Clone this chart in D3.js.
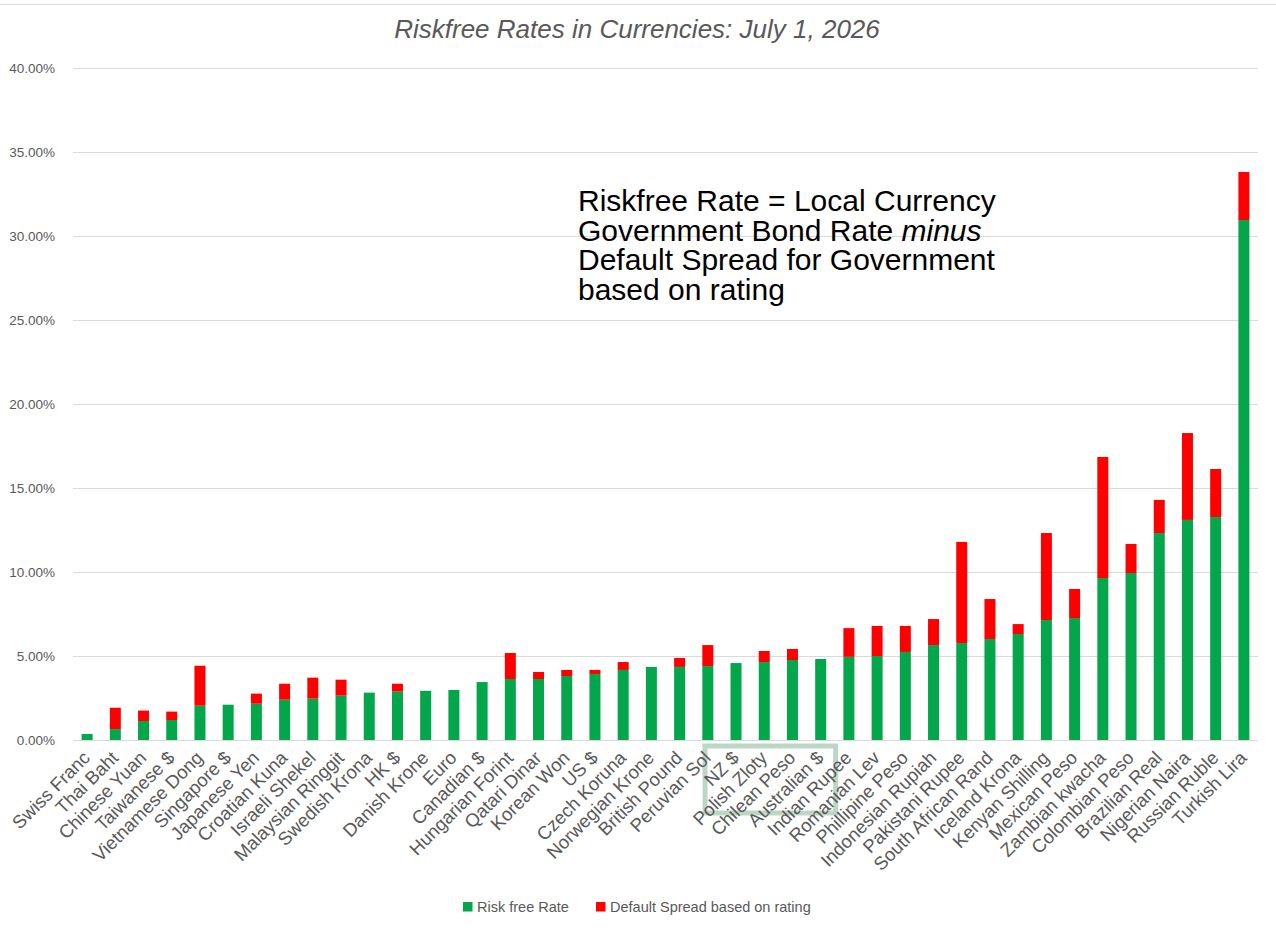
<!DOCTYPE html>
<html>
<head>
<meta charset="utf-8">
<script src="https://cdn.jsdelivr.net/npm/d3@7"></script>
<style>
  body { margin: 0; background: #fff; }
  svg { display: block; font-family: "Liberation Sans", Arial, sans-serif; }
</style>
</head>
<body>
<svg id="chart"></svg>
<script>
const width = 1276
const height = 934

// currencies, left to right
const currencies = [
  "Swiss Franc", "Thai Baht", "Chinese Yuan", "Taiwanese $", "Vietnamese Dong",
  "Singapore $", "Japanese Yen", "Croatian Kuna", "Israeli Shekel", "Malaysian Ringgit",
  "Swedish Krona", "HK $", "Danish Krone", "Euro", "Canadian $",
  "Hungarian Forint", "Qatari Dinar", "Korean Won", "US $", "Czech Koruna",
  "Norwegian Krone", "British Pound", "Peruvian Sol", "NZ $", "Polish Zloty",
  "Chilean Peso", "Australian $", "Indian Rupee", "Romanian Lev", "Phillipine Peso",
  "Indonesian Rupiah", "Pakistani Rupee", "South African Rand", "Iceland Krona", "Kenyan Shilling",
  "Mexican Peso", "Zambian kwacha", "Colombian Peso", "Brazilian Real", "Nigerian Naira",
  "Russian Ruble", "Turkish Lira"
]

// risk free rate (%)
const riskFree = [
  0.36, 0.65, 1.13, 1.19, 2.04,
  2.10, 2.16, 2.40, 2.46, 2.64,
  2.82, 2.88, 2.93, 2.98, 3.45,
  3.63, 3.63, 3.81, 3.93, 4.17,
  4.35, 4.35, 4.40, 4.58, 4.64,
  4.76, 4.82, 4.95, 5.00, 5.24,
  5.65, 5.77, 6.01, 6.31, 7.14,
  7.26, 9.64, 9.94, 12.32, 13.10,
  13.27, 30.95
]

// default spread based on rating (%)
const defaultSpread = [
  0.00, 1.27, 0.62, 0.50, 2.38,
  0.00, 0.60, 0.95, 1.25, 0.95,
  0.00, 0.47, 0.00, 0.00, 0.00,
  1.55, 0.42, 0.36, 0.24, 0.47,
  0.00, 0.53, 1.25, 0.00, 0.66,
  0.66, 0.00, 1.71, 1.79, 1.55,
  1.55, 6.02, 2.38, 0.59, 5.18,
  1.73, 7.21, 1.73, 1.97, 5.17,
  2.86, 2.86
]

const yTicks = [0, 5, 10, 15, 20, 25, 30, 35, 40]
const seriesNames = ["Risk free Rate", "Default Spread based on rating"]
const seriesKeys = ["rf", "spread"]
const colors = ["#03a64a", "#ff0000"]
const highlighted = ["NZ $", "Polish Zloty", "Chilean Peso", "Australian $"]

const rows = currencies.map((c, i) => ({ name: c, rf: riskFree[i], spread: defaultSpread[i] }))

const svg = d3.select("#chart")
              .attr("width", width)
              .attr("height", height)

const x = d3.scaleBand()
            .domain(currencies)
            .range([73, 1258])
            .paddingInner(0.61)
            .paddingOuter(0.305)

const y = d3.scaleLinear()
            .domain([0, 40])
            .range([740, 68])

// top border
svg.append("line")
   .attr("x1", 0).attr("x2", width)
   .attr("y1", 4.5).attr("y2", 4.5)
   .attr("stroke", "#d9d9d9")

// gridlines
svg.append("g")
   .selectAll("line")
   .data(yTicks)
   .join("line")
     .attr("x1", 73).attr("x2", 1258)
     .attr("y1", d => Math.round(y(d)) + 0.5)
     .attr("y2", d => Math.round(y(d)) + 0.5)
     .attr("stroke", "#d9d9d9")
     .attr("stroke-width", 1)

// y labels
svg.append("g")
   .selectAll("text")
   .data(yTicks)
   .join("text")
     .attr("x", 55)
     .attr("y", d => y(d))
     .attr("dy", "0.35em")
     .attr("text-anchor", "end")
     .attr("font-size", 13.5)
     .attr("fill", "#595959")
     .text(d => d.toFixed(2) + "%")

// bars
const stacked = d3.stack().keys(seriesKeys)(rows)

svg.append("g")
   .selectAll("g")
   .data(stacked)
   .join("g")
     .attr("fill", (d, i) => colors[i])
   .selectAll("rect")
   .data(d => d)
   .join("rect")
     .attr("x", d => x(d.data.name))
     .attr("width", x.bandwidth())
     .attr("y", d => y(d[1]))
     .attr("height", d => y(d[0]) - y(d[1]))

// highlight box around a few labels
const hx0 = x(highlighted[0]) + x.bandwidth() / 2 - 31
const hx1 = x(highlighted[highlighted.length - 1]) + x.bandwidth() / 2 + 15
svg.append("rect")
   .attr("x", hx0)
   .attr("y", 746)
   .attr("width", hx1 - hx0)
   .attr("height", 67)
   .attr("fill", "none")
   .attr("stroke", "#bdd7c6")
   .attr("stroke-width", 5)

// x labels
svg.append("g")
   .selectAll("text")
   .data(currencies)
   .join("text")
     .attr("transform", d => `translate(${x(d) + x.bandwidth() / 2 + 4},${759}) rotate(-45)`)
     .attr("text-anchor", "end")
     .attr("font-size", 18.5)
     .attr("fill", "#595959")
     .text(d => d)

// title
svg.append("text")
   .attr("x", 637)
   .attr("y", 38)
   .attr("text-anchor", "middle")
   .attr("font-size", 26)
   .attr("font-style", "italic")
   .attr("fill", "#595959")
   .text("Riskfree Rates in Currencies: July 1, 2026")

// annotation
const note = svg.append("text")
                .attr("x", 578)
                .attr("font-size", 30)
                .attr("fill", "#000")
const noteLines = [
  [["Riskfree Rate = Local Currency", false]],
  [["Government Bond Rate ", false], ["minus", true]],
  [["Default Spread for Government", false]],
  [["based on rating", false]]
]
noteLines.forEach((parts, i) => {
  const line = note.append("tspan")
                   .attr("x", 578)
                   .attr("y", 211 + i * 29.7)
  parts.forEach(p => {
    line.append("tspan")
        .attr("font-style", p[1] ? "italic" : null)
        .text(p[0])
  })
})

// legend
const legendX = [463, 596]
const legend = svg.append("g")
                  .selectAll("g")
                  .data(seriesNames)
                  .join("g")
                    .attr("transform", (d, i) => `translate(${legendX[i]},${902})`)
legend.append("rect")
      .attr("width", 9.5)
      .attr("height", 9.5)
      .attr("fill", (d, i) => colors[i])
legend.append("text")
      .attr("x", 14)
      .attr("y", 5)
      .attr("dy", "0.35em")
      .attr("font-size", 14.5)
      .attr("fill", "#595959")
      .text(d => d)
</script>
</body>
</html>
